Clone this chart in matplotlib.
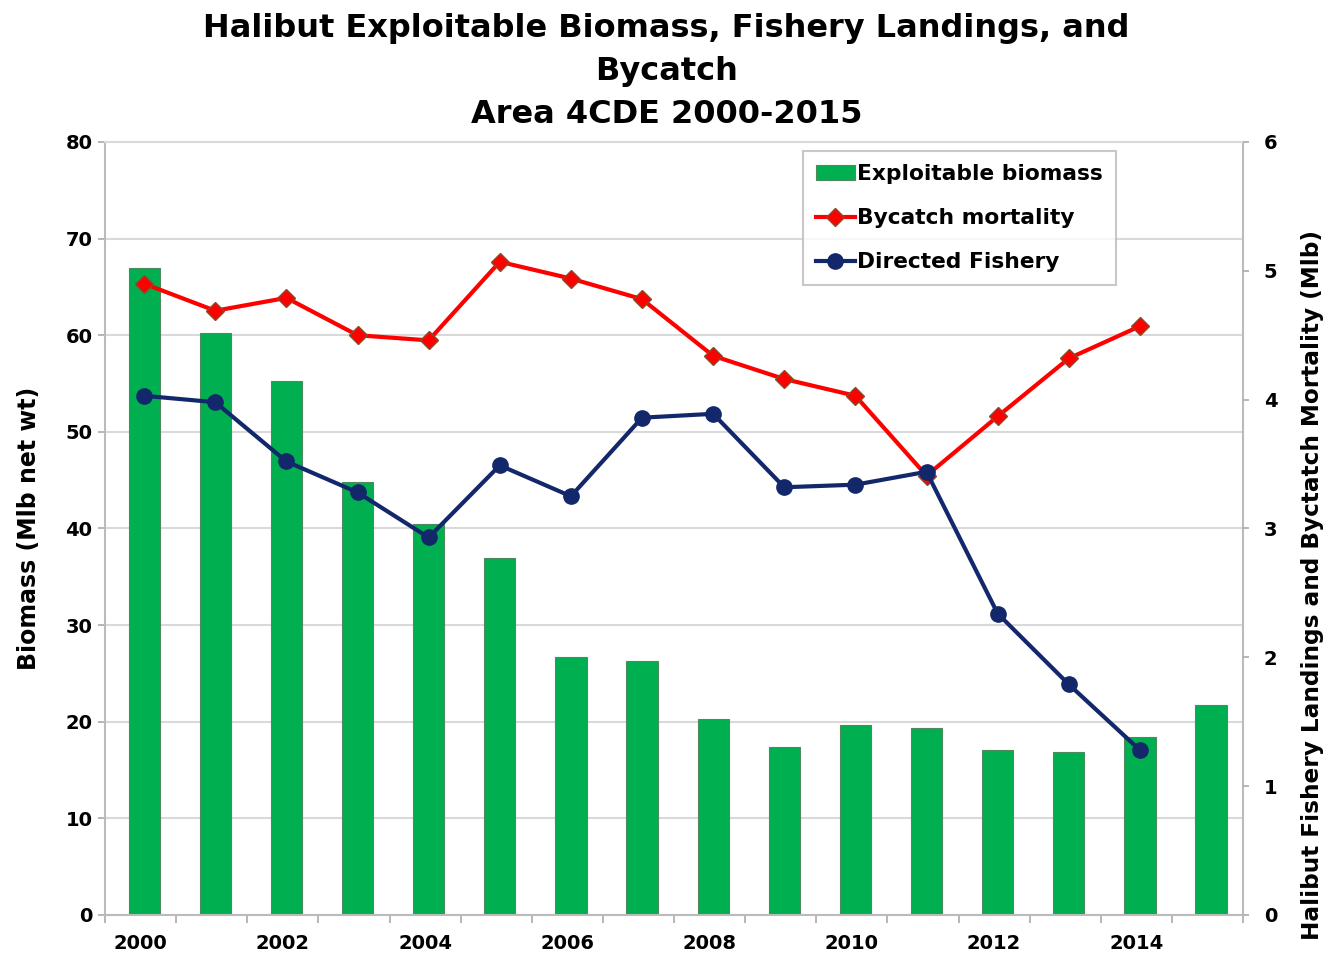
import matplotlib
matplotlib.use("Agg")
import matplotlib.pyplot as plt
import numpy as np

plt.rcParams['font.family'] = ['DejaVu Sans']
plt.rcParams['font.weight'] = 'bold'

# Area 4CDE halibut series
years = list(range(2000, 2016))
biomass = [67.0, 60.2, 55.3, 44.8, 40.5, 36.9, 26.7, 26.3, 20.3, 17.4,
           19.7, 19.4, 17.1, 16.9, 18.4, 21.7]
bycatch_years = list(range(2000, 2015))
bycatch = [4.90, 4.69, 4.79, 4.50, 4.46, 5.07, 4.94, 4.78, 4.34, 4.16,
           4.03, 3.41, 3.87, 4.32, 4.57]
directed = [4.03, 3.98, 3.52, 3.28, 2.93, 3.49, 3.25, 3.86, 3.89, 3.32,
            3.34, 3.44, 2.34, 1.79, 1.28]

GREEN = '#00B050'
RED = '#FF0000'
NAVY = '#13286B'
GRID = '#D9D9D9'

fig = plt.figure(figsize=(13.33, 9.6), dpi=100)
ax = fig.add_axes([0.0788, 0.0469, 0.8537, 0.8052])

x = np.arange(len(years))
ax.bar(x + 0.05, biomass, width=0.44, color=GREEN, edgecolor='#4E8A5E',
       linewidth=0.8, zorder=2, label='Exploitable biomass')
ax.set_xlim(-0.5, len(years) - 0.5)
ax.set_ylim(0, 80)
ax.set_yticks(range(0, 81, 10))
ax.yaxis.grid(True, color=GRID, linewidth=1.5, zorder=0)
ax.set_axisbelow(True)

# year labels every other year, tick marks on category boundaries
ax.set_xticks(x[::2])
ax.set_xticklabels([str(y) for y in years[::2]])
ax.set_xticks(np.arange(-0.5, len(years), 1.0), minor=True)
ax.tick_params(axis='x', which='major', length=0, pad=14, labelsize=14)
ax.tick_params(axis='x', which='minor', length=6, color='#AAAAAA', width=1.2)
ax.tick_params(axis='y', length=5, color='#AAAAAA', width=1.2, labelsize=14,
               pad=4)
for side in ['left', 'bottom', 'right']:
    ax.spines[side].set_color('#BBBBBB')
    ax.spines[side].set_linewidth(1.5)
ax.spines['top'].set_color(GRID)
ax.spines['top'].set_linewidth(1.5)
ax.set_ylabel('Biomass (Mlb net wt)', fontsize=17, fontweight='bold',
              labelpad=18)

ax2 = ax.twinx()
bx = [years.index(y) + 0.05 for y in bycatch_years]
ax2.plot(bx, bycatch, color=RED, linewidth=3, marker='D', markersize=9,
         markerfacecolor=RED, markeredgecolor='#8B4A2A', markeredgewidth=1,
         label='Bycatch mortality')
ax2.plot(bx, directed, color=NAVY, linewidth=3, marker='o', markersize=11,
         markerfacecolor=NAVY, markeredgecolor=NAVY,
         label='Directed Fishery')
ax2.set_ylim(0, 6)
ax2.set_yticks(range(0, 7))
ax2.tick_params(axis='y', length=4, color='#AAAAAA', width=1.2, labelsize=14,
                pad=11)
for side in ['left', 'bottom', 'right', 'top']:
    ax2.spines[side].set_visible(False)
ax2.set_ylabel('Halibut Fishery Landings and Byctatch Mortality (Mlb)',
               fontsize=16.7, fontweight='bold')
ax2.yaxis.set_label_coords(1.051, 0.427)

h1, l1 = ax.get_legend_handles_labels()
h2, l2 = ax2.get_legend_handles_labels()
leg = ax2.legend(h1 + h2, l1 + l2, loc='upper left',
                 bbox_to_anchor=(0.613, 0.988), fontsize=15.7, frameon=True,
                 fancybox=False, edgecolor='#BBBBBB', handlelength=1.8,
                 handletextpad=0.1, borderpad=0.6, labelspacing=1.1,
                 borderaxespad=0)
leg.get_frame().set_linewidth(1.5)

fig.text(0.5, 0.986, 'Halibut Exploitable Biomass, Fishery Landings, and\n'
         'Bycatch\nArea 4CDE 2000-2015', ha='center', va='top',
         fontsize=23, fontweight='bold', linespacing=1.49)

fig.savefig('out.png', dpi=100)
